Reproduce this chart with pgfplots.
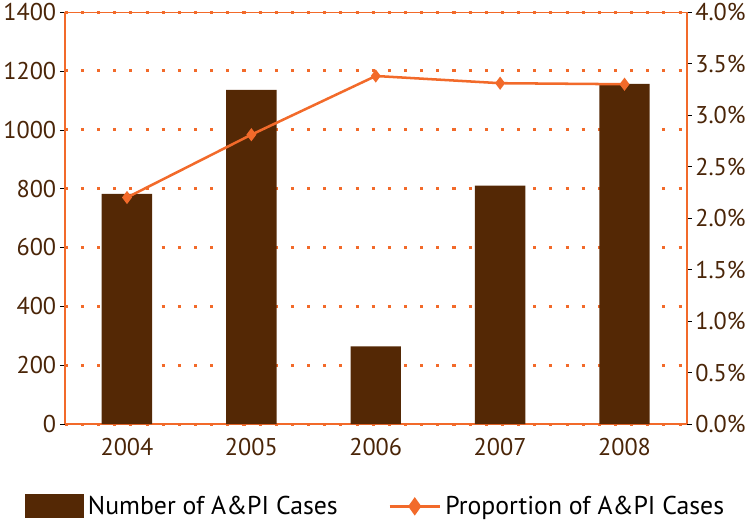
\documentclass[border=0pt]{standalone}
\usepackage{pgfplots}
\pgfplotsset{compat=1.18}
\usepackage{fontspec}
\setmainfont{PT Sans}
\definecolor{barbrown}{HTML}{542805}
\definecolor{lineorange}{HTML}{F26A2A}
\definecolor{txtbrown}{HTML}{4A2508}

\pgfplotsset{
  common/.style={
    scale only axis, width=616pt, height=408pt,
    xmin=-0.5, xmax=4.5,
    /pgf/number format/assume math mode=true,
    tick label style={text=txtbrown},
    tick style={black, thin},
    major tick length=5pt,
  }
}

\begin{document}
\begin{tikzpicture}[font=\fontsize{24}{28}\selectfont]
\begin{axis}[
  common,
  ymin=0, ymax=1400,
  ytick={0,200,...,1400},
  yticklabel style={/pgf/number format/1000 sep={}},
  axis y line*=left,
  axis x line*=bottom,
  axis line style={lineorange, line width=2pt},
  xtick={0,...,4}, xticklabels={2004,2005,2006,2007,2008},
  xticklabel style={yshift=-6pt},
  x tick style={draw=none},
  minor xtick={-0.5,0.5,...,4.5},
  minor tick length=5pt,
  minor x tick style={black, thin},
  ymajorgrids, grid style={lineorange, line width=3pt, dash pattern=on 3pt off 13pt},
  tick align=outside,
  ytick pos=left,
]
\addplot[ybar, bar width=50pt, bar shift=0pt, fill=barbrown, draw=none]
  coordinates {(0,782) (1,1136) (2,264) (3,810) (4,1156)};
\end{axis}
\begin{axis}[
  common,
  ymin=0, ymax=4,
  ytick={0,0.5,...,4},
  yticklabel={\pgfmathprintnumber[fixed,fixed zerofill,precision=1]{\tick}\%},
  axis y line*=right,
  axis x line=none,
  axis line style={lineorange, line width=2pt},
  tick align=outside,
  legend style={at={(0.5,-0.165)}, anchor=north, draw=none, fill=none,
    legend columns=2, font=\fontsize{25.5}{30}\selectfont,
    /tikz/every even column/.append style={column sep=48pt},
    /tikz/every odd column/.append style={column sep=2pt}},
]
\draw[lineorange, line width=2pt] (rel axis cs:0,1) -- (rel axis cs:1,1);
\addlegendimage{area legend, fill=barbrown, draw=none,
  legend image code/.code={\fill[barbrown] (-4pt,-12pt) rectangle (54pt,12pt);}}
\addlegendentry{Number of A\&PI Cases}
\addplot[lineorange, line width=2.5pt, mark=diamond*, mark size=4.5pt,
  legend image code/.code={\draw[lineorange, line width=2.5pt] (-4pt,0pt) -- (46pt,0pt);
    \fill[lineorange] (21pt,0pt) +(0,7pt) -- +(5pt,0) -- +(0,-7pt) -- +(-5pt,0) -- cycle;}]
  coordinates {(0,2.20) (1,2.81) (2,3.38) (3,3.31) (4,3.30)};
\addlegendentry{Proportion of A\&PI Cases}
\end{axis}
\end{tikzpicture}
\end{document}
